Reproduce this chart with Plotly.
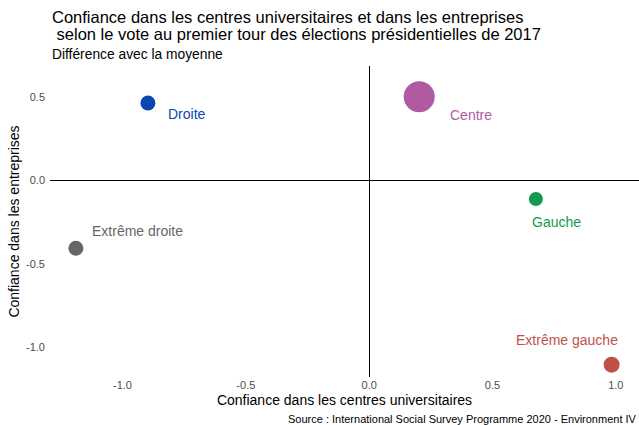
import plotly.graph_objects as go

categories = ["Droite", "Centre", "Gauche", "Extrême droite", "Extrême gauche"]
conf_univ = [-0.897, 0.203, 0.676, -1.189, 0.983]
conf_entr = [0.464, 0.502, -0.111, -0.406, -1.103]
x_ticks = [-1.0, -0.5, 0.0, 0.5, 1.0]
y_ticks = [-1.0, -0.5, 0.0, 0.5]

title_lines = ["Confiance dans les centres universitaires et dans les entreprises",
               "\u00a0selon le vote au premier tour des élections présidentielles de 2017"]
subtitle = "Différence avec la moyenne"
source = "Source : International Social Survey Programme 2020 - Environment IV"

colors = {"Droite": "#0a47b0", "Centre": "#b05aa4", "Gauche": "#129b4c",
          "Extrême droite": "#666666", "Extrême gauche": "#c0514a"}
sizes = {"Droite": 15, "Centre": 31, "Gauche": 14, "Extrême droite": 15, "Extrême gauche": 16}
# label offsets in pixels (xshift, yshift, xanchor)
offsets = {"Droite": (18, -11, "left"), "Centre": (29, -18, "left"),
           "Gauche": (-6, -23, "left"), "Extrême droite": (14, 17, "left"),
           "Extrême gauche": (-45, 25, "center")}

FONT = "Liberation Sans, Arial, sans-serif"

fig = go.Figure()
for c, x, y in zip(categories, conf_univ, conf_entr):
    fig.add_trace(go.Scatter(x=[x], y=[y], mode="markers", name=c,
                             marker=dict(color=colors[c], size=sizes[c], line=dict(width=0)),
                             showlegend=False, hoverinfo="skip"))
    dx, dy, xa = offsets[c]
    fig.add_annotation(x=x, y=y, text=c, showarrow=False, xshift=dx, yshift=dy,
                       xanchor=xa, yanchor="middle",
                       font=dict(family=FONT, size=14, color=colors[c]))

for line, py in zip(title_lines, [1.157, 1.102]):
    fig.add_annotation(xref="paper", yref="paper", x=0, y=py, xanchor="left", yanchor="middle",
                       text=line, showarrow=False,
                       font=dict(family=FONT, size=16.5, color="black"))
fig.add_annotation(xref="paper", yref="paper", x=0, y=1.037, xanchor="left", yanchor="middle",
                   text=subtitle, showarrow=False,
                   font=dict(family=FONT, size=13.8, color="black"))
fig.add_annotation(xref="paper", yref="paper", x=1, y=-0.135, xanchor="right", yanchor="middle",
                   text=source, showarrow=False, font=dict(family=FONT, size=11, color="black"))

fig.update_layout(
    width=639, height=425,
    margin=dict(l=50, r=0, t=66, b=48),
    paper_bgcolor="white", plot_bgcolor="white",
    xaxis=dict(range=[-1.294, 1.094], tickvals=x_ticks, ticktext=[f"{v:.1f}" for v in x_ticks],
               showgrid=False, zeroline=True, zerolinecolor="black", zerolinewidth=1.3,
               showline=False, ticks="", tickfont=dict(family=FONT, size=11, color="#4d4d4d"),
               title=dict(text="Confiance dans les centres universitaires", standoff=5,
                          font=dict(family=FONT, size=14, color="black"))),
    yaxis=dict(range=[-1.177, 0.686], tickvals=y_ticks, ticktext=[f"{v:.1f}" for v in y_ticks],
               showgrid=False, zeroline=True, zerolinecolor="black", zerolinewidth=1.3,
               showline=False, ticks="", ticklabelstandoff=4,
               tickfont=dict(family=FONT, size=11, color="#4d4d4d"),
               title=dict(text="Confiance dans les entreprises", standoff=3,
                          font=dict(family=FONT, size=14, color="black"))),
)
fig.write_html("out.html", config={"displayModeBar": False},
               post_script="document.body.style.margin='0';document.body.style.overflow='hidden';")
